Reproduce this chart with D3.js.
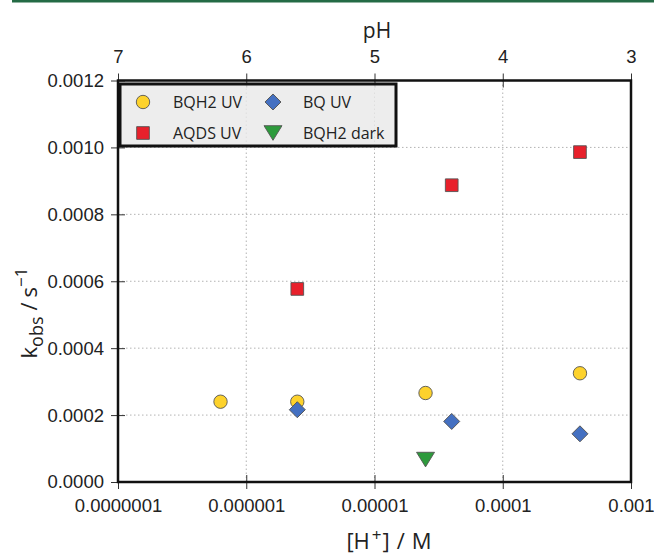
<!DOCTYPE html>
<html>
<head>
<meta charset="utf-8">
<script src="https://cdn.jsdelivr.net/npm/d3@7"></script>
<style>
  body { margin: 0; background: #fff; }
  svg { display: block; }
</style>
</head>
<body>
<div id="chart"></div>
<script>
// [H+] in M (pH 6.2, 5.6, 4.6, 4.4, 3.4)
const bqh2UvH = [6.3e-7, 2.5e-6, 2.5e-5, 4.0e-4];
const bqh2UvK = [0.000240, 0.000240, 0.000266, 0.000325];
const aqdsUvH = [2.5e-6, 4.0e-5, 4.0e-4];
const aqdsUvK = [0.000577, 0.000887, 0.000986];
const bqUvH = [2.5e-6, 4.0e-5, 4.0e-4];
const bqUvK = [0.000216, 0.000181, 0.000144];
const bqh2DarkH = [2.5e-5];
const bqh2DarkK = [0.000067];

const xTicks = [1e-7, 1e-6, 1e-5, 1e-4, 1e-3];
const xTickLabels = ["0.0000001", "0.000001", "0.00001", "0.0001", "0.001"];
const pHTicks = [7, 6, 5, 4, 3];
const yTicks = [0, 0.0002, 0.0004, 0.0006, 0.0008, 0.0010, 0.0012];

const width = 654, height = 556;
const margin = {top: 80.5, right: 23, bottom: 74, left: 118};

const svg = d3.select("#chart").append("svg")
    .attr("width", width)
    .attr("height", height);

// green strip along the top of the page
svg.append("rect")
    .attr("x", 12).attr("y", 0)
    .attr("width", width - 12).attr("height", 2.5)
    .attr("fill", "#246b45");

const x = d3.scaleLog()
    .domain([1e-7, 1e-3])
    .range([margin.left, width - margin.right]);
const y = d3.scaleLinear()
    .domain([0, 0.0012])
    .range([height - margin.bottom, margin.top]);

const tickFont = "'Liberation Sans', Arial, sans-serif";
const labelFont = "'Open Sans', sans-serif";

// grid
const grid = svg.append("g")
    .attr("stroke", "#b3b3b3")
    .attr("stroke-width", 1)
    .attr("stroke-dasharray", "1.5,2.5");
grid.selectAll("line.v")
    .data(xTicks.slice(1, -1))
    .join("line")
    .attr("x1", d => x(d)).attr("x2", d => x(d))
    .attr("y1", y.range()[1]).attr("y2", y.range()[0]);
grid.selectAll("line.h")
    .data(yTicks.slice(1, -1))
    .join("line")
    .attr("x1", x.range()[0]).attr("x2", x.range()[1])
    .attr("y1", d => y(d)).attr("y2", d => y(d));

// axes (ticks cross the frame)
const bottomAxis = svg.append("g")
    .attr("transform", `translate(0,${y.range()[0]})`)
    .call(d3.axisBottom(x).tickValues(xTicks)
        .tickFormat((d, i) => xTickLabels[i])
        .tickSizeInner(7).tickSizeOuter(0).tickPadding(10));
const topAxis = svg.append("g")
    .attr("transform", `translate(0,${y.range()[1]})`)
    .call(d3.axisTop(x).tickValues(pHTicks.map(p => Math.pow(10, -p)))
        .tickFormat((d, i) => pHTicks[i])
        .tickSizeInner(7).tickSizeOuter(0).tickPadding(11));
const leftAxis = svg.append("g")
    .attr("transform", `translate(${x.range()[0]},0)`)
    .call(d3.axisLeft(y).tickValues(yTicks)
        .tickFormat(d3.format(".4f"))
        .tickSizeInner(7).tickSizeOuter(0).tickPadding(7));

[bottomAxis, topAxis, leftAxis].forEach(g => {
    g.select(".domain").remove();
    g.selectAll("text")
        .attr("font-family", tickFont)
        .attr("font-size", 18.5)
        .attr("fill", "#222");
    g.selectAll(".tick line").attr("stroke", "#333");
});
bottomAxis.selectAll(".tick").append("line")
    .attr("y1", -7).attr("y2", 0).attr("stroke", "#333");
topAxis.selectAll(".tick").append("line")
    .attr("y1", 0).attr("y2", 7).attr("stroke", "#333");
leftAxis.selectAll(".tick").append("line")
    .attr("x1", 0).attr("x2", 7).attr("stroke", "#333");

// axis titles
svg.append("text")
    .attr("x", 377).attr("y", 38)
    .attr("text-anchor", "middle")
    .attr("font-family", labelFont).attr("font-size", 21)
    .attr("fill", "#222")
    .text("pH");

const xl = svg.append("text")
    .attr("x", 389).attr("y", 549)
    .attr("text-anchor", "middle")
    .attr("font-family", labelFont).attr("font-size", 22)
    .attr("fill", "#222");
xl.append("tspan").text("[H");
xl.append("tspan").attr("dx", 2).attr("dy", -8).attr("font-size", 17).text("+");
xl.append("tspan").attr("dx", 1).attr("dy", 8).text("]");
xl.append("tspan").attr("dx", 7).text("/");
xl.append("tspan").attr("dx", 7).text("M");

const yl = svg.append("text")
    .attr("transform", "translate(37,313) rotate(-90)")
    .attr("text-anchor", "middle")
    .attr("font-family", labelFont).attr("font-size", 22)
    .attr("fill", "#222");
yl.append("tspan").text("k");
yl.append("tspan").attr("dy", 6).attr("font-size", 18).text("obs");
yl.append("tspan").attr("dx", 6).attr("dy", -6).text("/");
yl.append("tspan").attr("dx", 5).text("s");
yl.append("tspan").attr("dy", -10).attr("font-size", 17).text("\u22121");

// markers
const marker = {
    circle: d3.symbol().type(d3.symbolCircle).size(141)(),
    square: d3.symbol().type(d3.symbolSquare).size(161)(),
    diamond: d3.symbol().type(d3.symbolSquare).size(128)(),
    triangle: "M-9,-7.3L9,-7.3L0,7.3Z"
};

const series = [
    {h: bqh2UvH, k: bqh2UvK, name: "BQH2 UV", shape: "circle", color: "#fdd22c"},
    {h: aqdsUvH, k: aqdsUvK, name: "AQDS UV", shape: "square", color: "#e8202b"},
    {h: bqUvH, k: bqUvK, name: "BQ UV", shape: "diamond", color: "#4470c1"},
    {h: bqh2DarkH, k: bqh2DarkK, name: "BQH2 dark", shape: "triangle", color: "#2d9a3c"}
];

const plot = svg.append("g");
series.forEach(s => {
    plot.selectAll(null)
        .data(s.h.map((h, i) => ({h: h, k: s.k[i]})))
        .join("path")
        .attr("d", marker[s.shape])
        .attr("transform", d => `translate(${x(d.h)},${y(d.k)})` + (s.shape === "diamond" ? " rotate(45)" : ""))
        .attr("fill", s.color)
        .attr("stroke", "#555")
        .attr("stroke-width", 0.9);
});

// frame
svg.append("rect")
    .attr("x", x.range()[0]).attr("y", y.range()[1])
    .attr("width", x.range()[1] - x.range()[0])
    .attr("height", y.range()[0] - y.range()[1])
    .attr("fill", "none")
    .attr("stroke", "#111")
    .attr("stroke-width", 2.5);

// legend (2 columns, column-first)
const legend = svg.append("g");
legend.append("rect")
    .attr("x", 120).attr("y", 84)
    .attr("width", 276).attr("height", 62)
    .attr("fill", "rgba(232,232,232,0.8)")
    .attr("stroke", "#111")
    .attr("stroke-width", 3);
const legendPos = [[143, 102], [143, 133], [273, 102], [273, 133]];
series.forEach((s, i) => {
    const [lx, ly] = legendPos[i];
    legend.append("path")
        .attr("d", marker[s.shape])
        .attr("transform", `translate(${lx},${ly})` + (s.shape === "diamond" ? " rotate(45)" : ""))
        .attr("fill", s.color)
        .attr("stroke", "#555")
        .attr("stroke-width", 0.9);
    legend.append("text")
        .attr("x", lx + 30).attr("y", ly + 6)
        .attr("font-family", labelFont).attr("font-size", 16)
        .attr("fill", "#222")
        .text(s.name);
});
</script>
</body>
</html>
